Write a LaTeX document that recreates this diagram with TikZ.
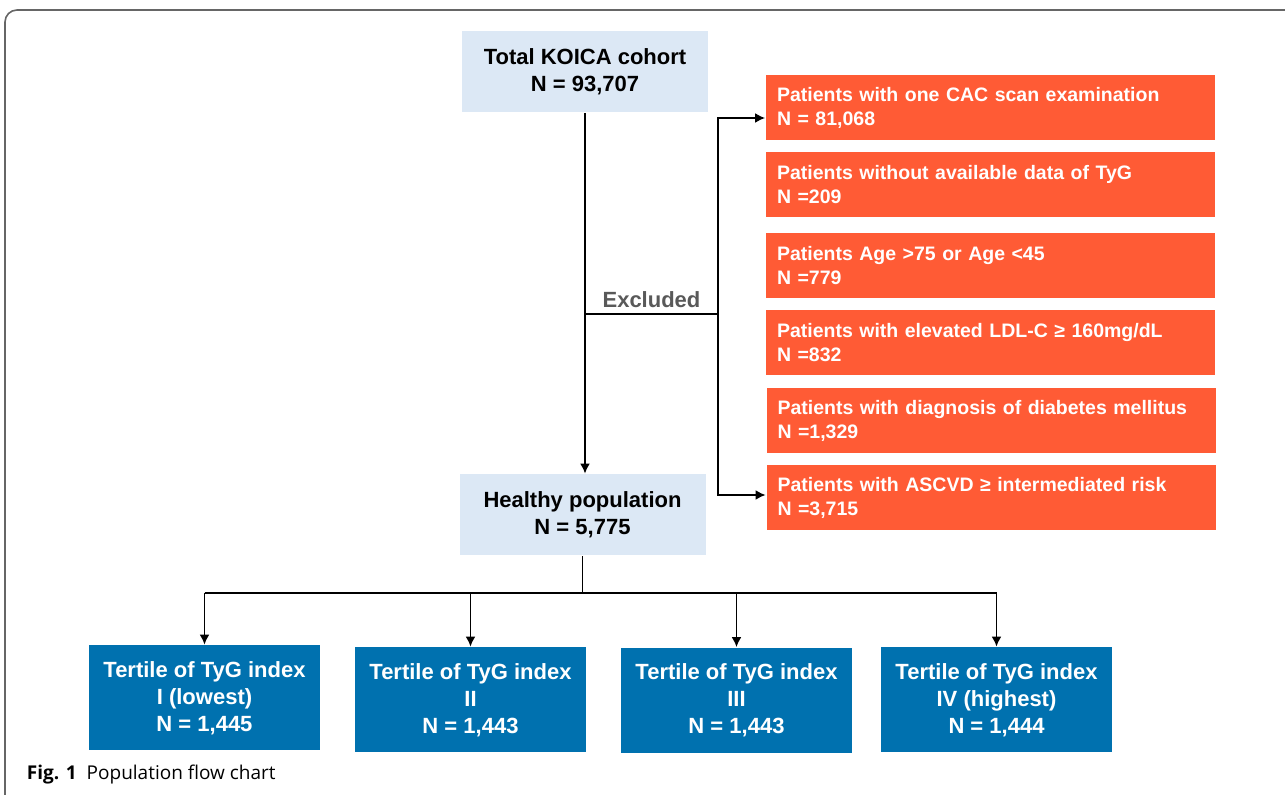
\documentclass[tikz,border=0pt]{standalone}
\usepackage{fontspec}
\setmainfont{Liberation Sans}
\newfontfamily\capfont{Open Sans}
\usetikzlibrary{arrows.meta}
\usetikzlibrary{calc}
\definecolor{cohortblue}{RGB}{220,232,245}
\definecolor{exclorange}{RGB}{255,91,53}
\definecolor{tertblue}{RGB}{0,113,175}
\definecolor{exclgray}{RGB}{89,89,89}
\def\pagebox{(0,0) rectangle (1285,795)}
\def\outerframe{(5,10) rectangle (1300,815)}
\tikzset{
  cohort/.style={fill=cohortblue,minimum width=123pt,minimum height=40.5pt,align=center,font=\bfseries\fontsize{11}{13.5}\selectfont},
  exclbox/.style={fill=exclorange,text=white,minimum width=224.5pt,minimum height=32.5pt,text width=213.5pt,inner xsep=5.5pt,align=left,font=\bfseries\fontsize{9.75}{12}\selectfont},
  tertile/.style={fill=tertblue,text=white,minimum width=115.5pt,minimum height=52.5pt,align=center,font=\bfseries\fontsize{11}{13.5}\selectfont}
}

\begin{document}
\begin{tikzpicture}[x=0.5pt,y=-0.5pt,line width=0.9pt,>={Latex[length=5pt,width=5pt]}]
   \useasboundingbox \pagebox;
   \clip \pagebox;
      \draw[black!60,line width=0.8pt,rounded corners=6pt] \outerframe;
% cohort boxes
\node[cohort] (total) at (585,71.5) {Total KOICA cohort\\N = 93,707};
    \node[cohort] (healthy) at (582.5,515) {Healthy population\\N = 5,775};
% excluded
  \node[exclbox] (e1) at (990.5,108) {Patients with one CAC scan examination\\N = 81,068};
  \node[exclbox] (e2) at (990.5,185) {Patients without available data of TyG\\N =209};
  \node[exclbox] (e3) at (990.5,266) {Patients Age >75 or Age <45\\N =779};
  \node[exclbox] (e4) at (990.5,343) {Patients with elevated LDL-C ≥ 160mg/dL\\N =832};
  \node[exclbox] (e5) at (991,421) {Patients with diagnosis of diabetes mellitus\\N =1,329};
  \node[exclbox] (e6) at (991,498) {Patients with ASCVD ≥ intermediated risk\\N =3,715};
% tertiles
 \node[tertile] (t1) at (204.5,698) {Tertile of TyG index\\I (lowest)\\N = 1,445};
 \node[tertile] (t2) at (470.5,700) {Tertile of TyG index\\II\\N = 1,443};
 \node[tertile] (t3) at (736.5,700.5) {Tertile of TyG index\\III\\N = 1,443};
 \node[tertile] (t4) at (996.5,700) {Tertile of TyG index\\IV (highest)\\N = 1,444};

\draw[->] (total.south) -- (total.south |- healthy.north);
   \coordinate (split) at (718,314);
   \draw (total.south |- split) -- (split) node [pos=0.5,above,text=exclgray,font=\bfseries\fontsize{11}{13}\selectfont,inner sep=2.5pt](excl) {Excluded};
   \draw[->] (split) |- ($(e1.west)+(0,10)$);
   \draw[->] (split) |- ($(e6.west)+(0,-3)$);
% split into tertiles
\coordinate (fork) at (583,593);
  \draw (healthy.south) -- (healthy.south |- fork);
  \draw (t1.north |- fork) -- (t4.north |- fork);
  \foreach \t in {t1,t2,t3,t4}
     \draw[->] (\t.north |- fork) -- (\t.north);

\node[anchor=west,inner sep=0pt] (cap) at (26,775) {\capfont\fontsize{9.5}{11}\selectfont\textbf{Fig. 1}\hspace{5pt}Population flow chart};
                            \end{tikzpicture}
\end{document}
